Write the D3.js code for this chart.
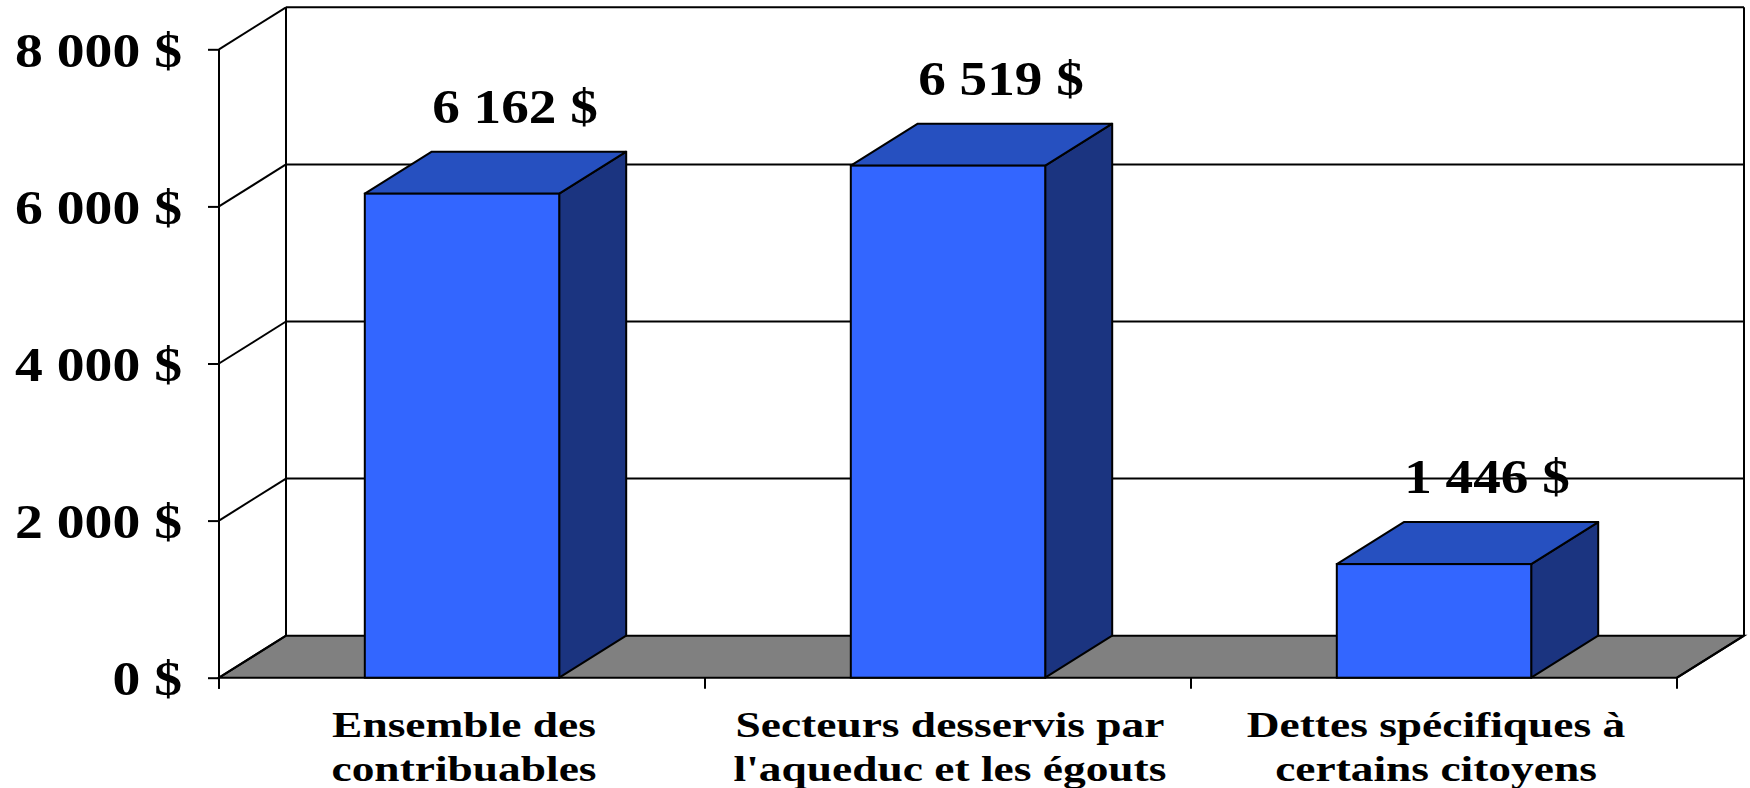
<!DOCTYPE html>
<html>
<head>
<meta charset="utf-8">
<script src="https://cdn.jsdelivr.net/npm/d3@7"></script>
<style>
  body { margin: 0; background: #fff; }
  text { font-family: "Liberation Serif", "Times New Roman", serif; font-weight: bold; fill: #000; }
</style>
</head>
<body>
<div id="chart"></div>
<script>
// data
const categories = [
  ["Ensemble des", "contribuables"],
  ["Secteurs desservis par", "l'aqueduc et les égouts"],
  ["Dettes spécifiques à", "certains citoyens"]
];
const values = [6162, 6519, 1446];
const tickValues = [0, 2000, 4000, 6000, 8000];

const width = 1750, height = 788;
const depthX = 67, depthY = 42;   // oblique depth of the 3d box

const locale = d3.formatLocale({ decimal: ",", thousands: "\u00a0", grouping: [3], currency: ["", " $"] });
const fmt = v => locale.format(",")(v).replace(/\u00a0/g, " ") + " $";

const svg = d3.select('#chart')
  .append('svg')
  .attr('width', width)
  .attr('height', height);

const y = d3.scaleLinear().domain([0, 8000]).range([677.7, 49.3]);
const x = d3.scaleBand()
  .domain(d3.range(values.length))
  .range([219, 1677])
  .paddingInner(0.6)
  .paddingOuter(0.3);

const [x0, x1] = x.range();
const y0 = y(0);

// floor
svg.append('polygon')
  .attr('points', [[x0, y0], [x1, y0], [x1 + depthX, y0 - depthY], [x0 + depthX, y0 - depthY]].join(' '))
  .style('fill', '#808080')
  .style('stroke', '#000')
  .style('stroke-width', 2);

// back wall gridlines
svg.selectAll('.grid')
  .data(tickValues.filter(t => t > 0))
  .enter()
  .append('line')
  .attr('x1', x0 + depthX)
  .attr('x2', x1 + depthX)
  .attr('y1', d => y(d) - depthY)
  .attr('y2', d => y(d) - depthY)
  .style('stroke', '#000')
  .style('stroke-width', 2);

// back wall edges
[x0 + depthX, x1 + depthX].forEach(px => {
  svg.append('line')
    .attr('x1', px).attr('x2', px)
    .attr('y1', y(8000) - depthY).attr('y2', y0 - depthY)
    .style('stroke', '#000')
    .style('stroke-width', 2);
});

// side wall diagonals
svg.selectAll('.diag')
  .data(tickValues)
  .enter()
  .append('line')
  .attr('x1', x0)
  .attr('x2', x0 + depthX)
  .attr('y1', d => y(d))
  .attr('y2', d => y(d) - depthY)
  .style('stroke', '#000')
  .style('stroke-width', 2);

// floor right edge
svg.append('line')
  .attr('x1', x1).attr('y1', y0)
  .attr('x2', x1 + depthX).attr('y2', y0 - depthY)
  .style('stroke', '#000')
  .style('stroke-width', 2);

// bars
const bars = svg.selectAll('.bar')
  .data(values)
  .enter()
  .append('g');

bars.append('polygon')
  .attr('points', (d, i) => {
    const bx = x(i) + x.bandwidth(), yt = y(d);
    return [[bx, y0], [bx + depthX, y0 - depthY], [bx + depthX, yt - depthY], [bx, yt]].join(' ');
  })
  .style('fill', '#1B3480')
  .style('stroke', '#000')
  .style('stroke-width', 2)
  .style('stroke-linejoin', 'round');

bars.append('polygon')
  .attr('points', (d, i) => {
    const bx = x(i), bw = x.bandwidth(), yt = y(d);
    return [[bx, yt], [bx + depthX, yt - depthY], [bx + bw + depthX, yt - depthY], [bx + bw, yt]].join(' ');
  })
  .style('fill', '#2650C0')
  .style('stroke', '#000')
  .style('stroke-width', 2)
  .style('stroke-linejoin', 'round');

bars.append('rect')
  .attr('x', (d, i) => x(i))
  .attr('y', d => y(d))
  .attr('width', x.bandwidth())
  .attr('height', d => y0 - y(d))
  .style('fill', '#3366FF')
  .style('stroke', '#000')
  .style('stroke-width', 2);

// value labels
bars.append('text')
  .attr('text-anchor', 'middle')
  .style('font-size', '48px')
  .attr('transform', (d, i) => `translate(${x(i) + x.bandwidth() / 2 + 53}, ${y(d) - depthY - 29}) scale(1.15,1)`)
  .text(d => fmt(d));

// y axis
const yAxis = svg.append('g')
  .attr('transform', `translate(${x0},0)`)
  .call(d3.axisLeft(y).tickValues(tickValues).tickSizeInner(11).tickSizeOuter(0).tickPadding(26).tickFormat(fmt));
yAxis.select('.domain').remove();
yAxis.selectAll('line').style('stroke', '#000').style('stroke-width', 2);
yAxis.selectAll('text')
  .attr('font-family', null)
  .style('font-size', '48px')
  .attr('x', -37 / 1.16)
  .attr('dy', '0.35em')
  .attr('transform', 'scale(1.16,1)');

svg.append('line')
  .attr('x1', x0).attr('x2', x0)
  .attr('y1', y(8000)).attr('y2', y0 + 11)
  .style('stroke', '#000')
  .style('stroke-width', 2);

// x ticks at band boundaries
svg.selectAll('.xtick')
  .data(d3.range(values.length + 1))
  .enter()
  .append('line')
  .attr('x1', i => x0 + i * x.step())
  .attr('x2', i => x0 + i * x.step())
  .attr('y1', y0)
  .attr('y2', y0 + 11)
  .style('stroke', '#000')
  .style('stroke-width', 2);

// category labels
const cat = svg.selectAll('.cat')
  .data(categories)
  .enter()
  .append('text')
  .attr('text-anchor', 'middle')
  .style('font-size', '35.5px')
  .attr('transform', (d, i) => `translate(${x(i) + x.bandwidth() / 2 + 2}, 736.7) scale(1.28,1)`);

cat.selectAll('tspan')
  .data(d => d)
  .enter()
  .append('tspan')
  .attr('x', 0)
  .attr('y', (d, j) => j * 44)
  .text(d => d);
</script>
</body>
</html>
